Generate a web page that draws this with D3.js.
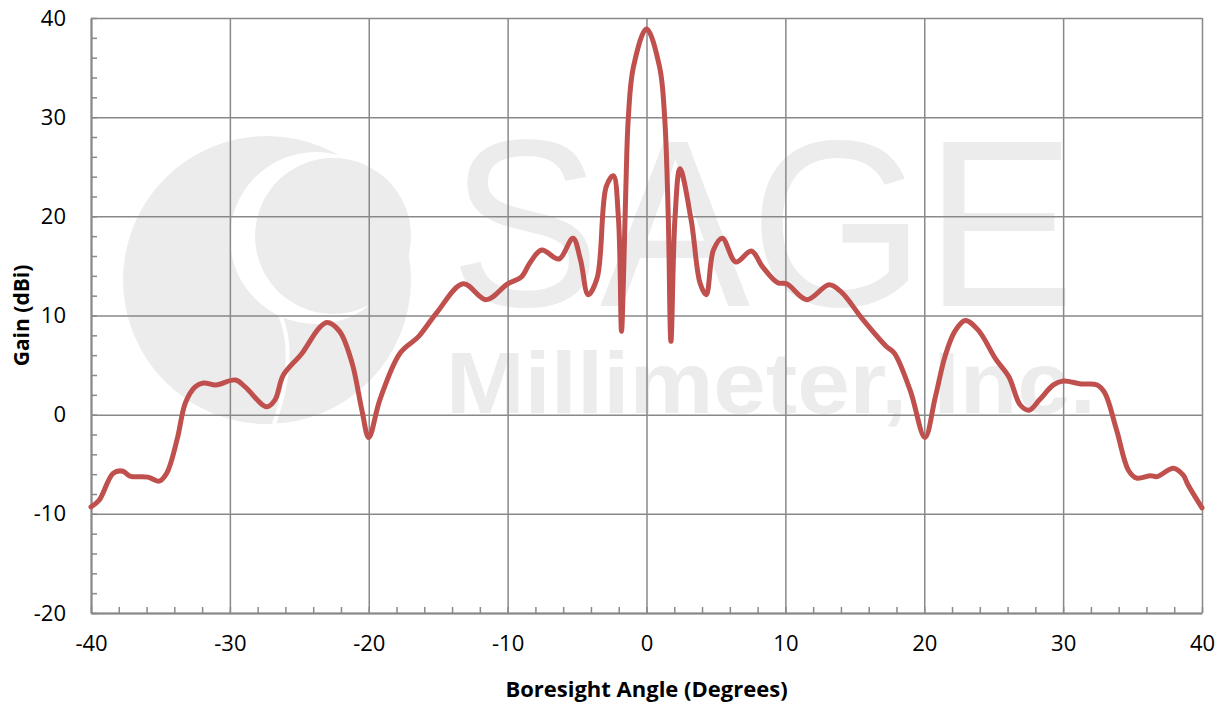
<!DOCTYPE html>
<html>
<head>
<meta charset="utf-8">
<script src="https://cdn.jsdelivr.net/npm/d3@7"></script>
<style>
  body { margin: 0; background: #fff; }
  svg { display: block; }
</style>
</head>
<body>
<div id="chart"></div>
<script>
var angles = [-40, -39.4, -38.4, -37.7, -37.2, -35.9, -35.1, -34.55, -33.8, -33.2,
  -32.5, -31.9, -31.0, -29.6, -28.9, -27.35, -26.75, -26.15, -24.8, -23.6,
  -23.0, -22.1, -21.2, -20.5, -20.0, -19.2, -17.75, -16.4, -15.1, -13.2,
  -11.55, -10.0, -9.0, -8.4, -7.55, -6.3, -5.3, -4.75, -4.2, -3.55,
  -2.9, -2.39, -2.02, -1.8, -1.67, -1.48, -1.31, -0.95, 0, 0.95,
  1.31, 1.57, 1.76, 2.05, 2.41, 3.22, 3.86, 4.3, 4.82, 5.46,
  6.43, 7.55, 8.36, 9.45, 10.1, 11.55, 13.15, 14.0, 15.6, 17.25,
  17.85, 19.0, 20.05, 20.8, 21.5, 22.2, 22.95, 23.9, 25.15, 26.1,
  26.9, 27.55, 28.3, 29.3, 30.0, 31.3, 32.45, 33.0, 33.85, 34.7,
  35.3, 36.3, 36.75, 37.95, 38.65, 39.0, 40];
var gains = [-9.3, -8.6, -5.9, -5.7, -6.2, -6.3, -6.7, -5.9, -2.5, 1.2,
  2.8, 3.2, 3.0, 3.5, 2.8, 0.8, 1.5, 4.0, 6.2, 8.7,
  9.3, 8.4, 5.2, 0.5, -2.3, 1.5, 6.2, 7.9, 10.3, 13.2,
  11.6, 13.2, 13.9, 15.3, 16.6, 15.7, 17.8, 15.6, 12.1, 13.8,
  23.0, 24.1, 19.8, 8.4, 13.1, 23.2, 29.9, 35.0, 38.9, 35.0,
  29.9, 19.8, 7.4, 19.8, 24.8, 19.6, 13.25, 12.1, 16.6, 17.8,
  15.4, 16.5, 14.9, 13.3, 13.2, 11.6, 13.1, 12.4, 9.55, 6.9,
  6.2, 2.4, -2.3, 1.8, 5.9, 8.4, 9.5, 8.5, 5.6, 3.8,
  1.0, 0.45, 1.5, 3.0, 3.4, 3.1, 3.0, 2.2, -1.55, -5.6,
  -6.4, -6.15, -6.25, -5.4, -6.1, -7.1, -9.4];

var xTicks = [-40, -30, -20, -10, 0, 10, 20, 30, 40];
var yTicks = [-20, -10, 0, 10, 20, 30, 40];
var xMinor = d3.range(-40, 41, 2);
var yMinor = d3.range(-20, 41, 2);

var w = 1224, h = 704;
var mLeft = 91, mTop = 18, mRight = 1202, mBottom = 613;
var gridColor = "#898989";
var font = "'Open Sans', 'DejaVu Sans', sans-serif";
var plain = function(d) { return String(d); };

var svg = d3.select("#chart")
  .append("svg")
  .attr("width", w)
  .attr("height", h);

var x = d3.scaleLinear().domain([-40, 40]).range([mLeft, mRight]);
var y = d3.scaleLinear().domain([-20, 40]).range([mBottom, mTop]);

// faint company watermark behind the plot
var wm = svg.append("g").attr("fill", "#ececec");
wm.append("circle").attr("cx", 267).attr("cy", 280).attr("r", 144);
wm.append("circle").attr("cx", 316).attr("cy", 238).attr("r", 86).attr("fill", "#fff");
wm.append("circle").attr("cx", 333).attr("cy", 236).attr("r", 78);
wm.append("path")
  .attr("d", "M268,294 C290,322 296,362 274,424")
  .attr("fill", "none")
  .attr("stroke", "#fff")
  .attr("stroke-width", 4);
wm.append("text")
  .attr("x", 450).attr("y", 306)
  .attr("textLength", 625).attr("lengthAdjust", "spacingAndGlyphs")
  .attr("font-family", "'Liberation Sans', Arial, sans-serif")
  .attr("font-size", "238px")
  .text("SAGE");
wm.append("text")
  .attr("x", 446).attr("y", 413)
  .attr("textLength", 650).attr("lengthAdjust", "spacingAndGlyphs")
  .attr("font-family", "'Liberation Sans', Arial, sans-serif")
  .attr("font-weight", "bold")
  .attr("font-size", "88px")
  .text("Millimeter, Inc.");

// grid lines
svg.append("g")
  .attr("transform", "translate(0," + mBottom + ")")
  .call(d3.axisBottom(x).tickValues(xTicks).tickSize(-(mBottom - mTop)).tickFormat(""))
  .call(function(g) {
    g.select(".domain").remove();
    g.selectAll("line").attr("stroke", gridColor).attr("stroke-width", 1.5);
  });
svg.append("g")
  .attr("transform", "translate(" + mLeft + ",0)")
  .call(d3.axisLeft(y).tickValues(yTicks).tickSize(-(mRight - mLeft)).tickFormat(""))
  .call(function(g) {
    g.select(".domain").remove();
    g.selectAll("line").attr("stroke", gridColor).attr("stroke-width", 1.5);
  });

// minor ticks on the axes
svg.append("g")
  .attr("transform", "translate(0," + mBottom + ")")
  .call(d3.axisBottom(x).tickValues(xMinor).tickSize(-6).tickSizeOuter(0).tickFormat(""))
  .call(function(g) {
    g.select(".domain").attr("stroke", gridColor).attr("stroke-width", 2);
    g.selectAll("line").attr("stroke", gridColor).attr("stroke-width", 1.5);
  });
svg.append("g")
  .attr("transform", "translate(" + mLeft + ",0)")
  .call(d3.axisLeft(y).tickValues(yMinor).tickSize(-6).tickSizeOuter(0).tickFormat(""))
  .call(function(g) {
    g.select(".domain").attr("stroke", gridColor).attr("stroke-width", 2);
    g.selectAll("line").attr("stroke", gridColor).attr("stroke-width", 1.5);
  });

// tick labels
svg.append("g")
  .attr("transform", "translate(" + mLeft + ",0)")
  .call(d3.axisLeft(y).tickValues(yTicks).tickSize(0).tickPadding(25).tickFormat(plain))
  .call(function(g) {
    g.select(".domain").remove();
    g.selectAll("text")
      .attr("font-family", font)
      .attr("font-size", "22px")
      .attr("fill", "#000");
  });
svg.append("g")
  .attr("transform", "translate(0," + mBottom + ")")
  .call(d3.axisBottom(x).tickValues(xTicks).tickSize(0).tickPadding(22).tickFormat(plain))
  .call(function(g) {
    g.select(".domain").remove();
    g.selectAll("text")
      .attr("font-family", font)
      .attr("font-size", "22px")
      .attr("fill", "#000");
  });

// gain curve
var line = d3.line()
  .x(function(d) { return x(d[0]); })
  .y(function(d) { return y(d[1]); })
  .curve(d3.curveCatmullRom.alpha(0.5));

svg.append("path")
  .datum(d3.zip(angles, gains))
  .attr("d", line)
  .attr("fill", "none")
  .attr("stroke", "#c0504d")
  .attr("stroke-width", 5)
  .attr("stroke-linejoin", "round")
  .attr("stroke-linecap", "round");

// axis titles
svg.append("text")
  .attr("x", (mLeft + mRight) / 2)
  .attr("y", 697)
  .attr("text-anchor", "middle")
  .attr("font-family", font)
  .attr("font-weight", "bold")
  .attr("font-size", "22px")
  .text("Boresight Angle (Degrees)");

svg.append("text")
  .attr("transform", "translate(29," + ((mTop + mBottom) / 2) + ") rotate(-90)")
  .attr("text-anchor", "middle")
  .attr("font-family", font)
  .attr("font-weight", "bold")
  .attr("font-size", "21px")
  .text("Gain (dBi)");
</script>
</body>
</html>
